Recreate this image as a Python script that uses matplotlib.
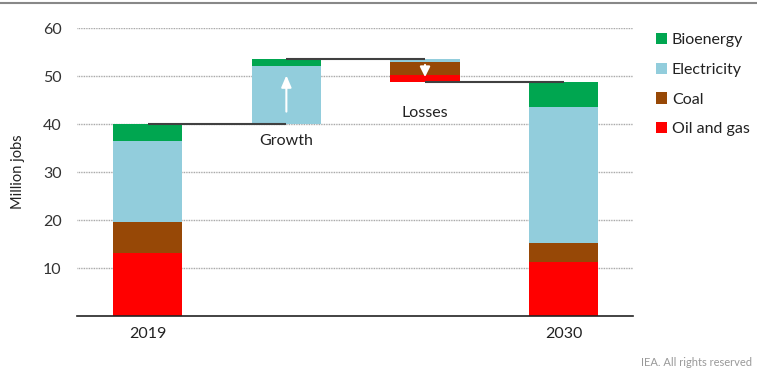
import matplotlib
matplotlib.use("Agg")
import matplotlib.pyplot as plt
import numpy as np
from matplotlib.patches import Patch

plt.rcParams['font.family'] = ['Lato', 'DejaVu Sans']

# Data (million jobs)
categories = ["2019", "Growth", "Losses", "2030"]
series = ["Oil and gas", "Coal", "Electricity", "Bioenergy"]
colors = {"Bioenergy": "#00A650", "Electricity": "#92CDDC",
          "Coal": "#974806", "Oil and gas": "#FF0000"}

jobs_2019 = {"Oil and gas": 13.1, "Coal": 6.5, "Electricity": 16.9, "Bioenergy": 3.5}
growth = {"Electricity": 12.0, "Bioenergy": 1.5}
losses = {"Electricity": 0.5, "Coal": 2.8, "Oil and gas": 1.4}
jobs_2030 = {"Oil and gas": 11.3, "Coal": 3.9, "Electricity": 28.4, "Bioenergy": 5.2}

yticks = [10, 20, 30, 40, 50, 60]

fig = plt.figure(figsize=(7.57, 3.71), dpi=100)
ax = fig.add_axes([77/757, 55/371, (633-77)/757, (316-28)/371])

x = np.arange(len(categories))
w = 0.5

# 2019 stacked
bottom = 0
for s in series:
    ax.bar(x[0], jobs_2019[s], w, bottom=bottom, color=colors[s], zorder=2)
    bottom += jobs_2019[s]
total_2019 = bottom

# Growth floating
bottom = total_2019
for s in ["Electricity", "Bioenergy"]:
    ax.bar(x[1], growth[s], w, bottom=bottom, color=colors[s], zorder=2)
    bottom += growth[s]
peak = bottom

# Losses floating (from top down)
top = peak
for s in ["Electricity", "Coal", "Oil and gas"]:
    ax.bar(x[2], -losses[s], w, bottom=top, color=colors[s], zorder=2)
    top -= losses[s]
after_loss = top

# 2030 stacked
bottom = 0
for s in series:
    ax.bar(x[3], jobs_2030[s], w, bottom=bottom, color=colors[s], zorder=2)
    bottom += jobs_2030[s]

# connectors
lc = "#404040"
for (a, b, yv) in [(x[0], x[1], total_2019), (x[1], x[2], peak), (x[2], x[3], after_loss)]:
    ax.plot([a, b], [yv, yv], color=lc, lw=1.5, zorder=3, solid_capstyle='butt')

# arrows
ax.annotate("", xy=(x[1], peak - 2.8), xytext=(x[1], total_2019 + 2.0),
            arrowprops=dict(arrowstyle="-|>,head_width=0.3,head_length=0.7",
                            color="white", lw=1.5), zorder=4)
ax.annotate("", xy=(x[2], after_loss + 0.4), xytext=(x[2], peak - 0.6),
            arrowprops=dict(arrowstyle="-|>,head_width=0.3,head_length=0.6",
                            color="white", lw=1.5), zorder=4)

ax.text(x[1], 36.4, "Growth", ha="center", va="center", fontsize=11.5, color="#222222")
ax.text(x[2], 42.3, "Losses", ha="center", va="center", fontsize=11.5, color="#222222")

ax.set_xlim(-0.51, 3.5)
ax.set_ylim(0, 60)
ax.set_yticks(yticks)
ax.set_yticklabels([str(t) for t in yticks], fontsize=11.5, color="#333333")
ax.set_xticks([x[0], x[3]])
ax.set_xticklabels([categories[0], categories[3]], fontsize=11.5, color="#222222")
ax.tick_params(axis='both', length=0, pad=8)
ax.tick_params(axis='y', pad=11)
ax.grid(axis='y', linestyle=(0, (0.6, 0.6)), color="#9a9a9a", lw=1.0, zorder=0)
for sp in ["top", "right", "left"]:
    ax.spines[sp].set_visible(False)
ax.spines["bottom"].set_color("#222222")
ax.spines["bottom"].set_linewidth(1.2)
ax.set_ylabel("Million jobs", fontsize=10.5, color="#222222", labelpad=13)

# legend (top right)
leg_order = ["Bioenergy", "Electricity", "Coal", "Oil and gas"]
handles = [Patch(facecolor=colors[s], edgecolor='none') for s in leg_order]
leg = fig.legend(handles, leg_order, loc="upper left", bbox_to_anchor=(656/757, 1 - 33/371),
                 frameon=False, fontsize=11.5, handlelength=0.7, handleheight=0.7,
                 handletextpad=0.3, labelspacing=0.97, borderaxespad=0, borderpad=0)
for t in leg.get_texts():
    t.set_color("#222222")

# top rule
fig.add_artist(plt.Line2D([0, 1], [1 - 3/371, 1 - 3/371], color="#888888", lw=1.5))

fig.text(752/757, 1 - 362/371, "IEA. All rights reserved", ha="right", va="center",
         fontsize=8, color="#999999")

fig.savefig("out.png", dpi=100)
